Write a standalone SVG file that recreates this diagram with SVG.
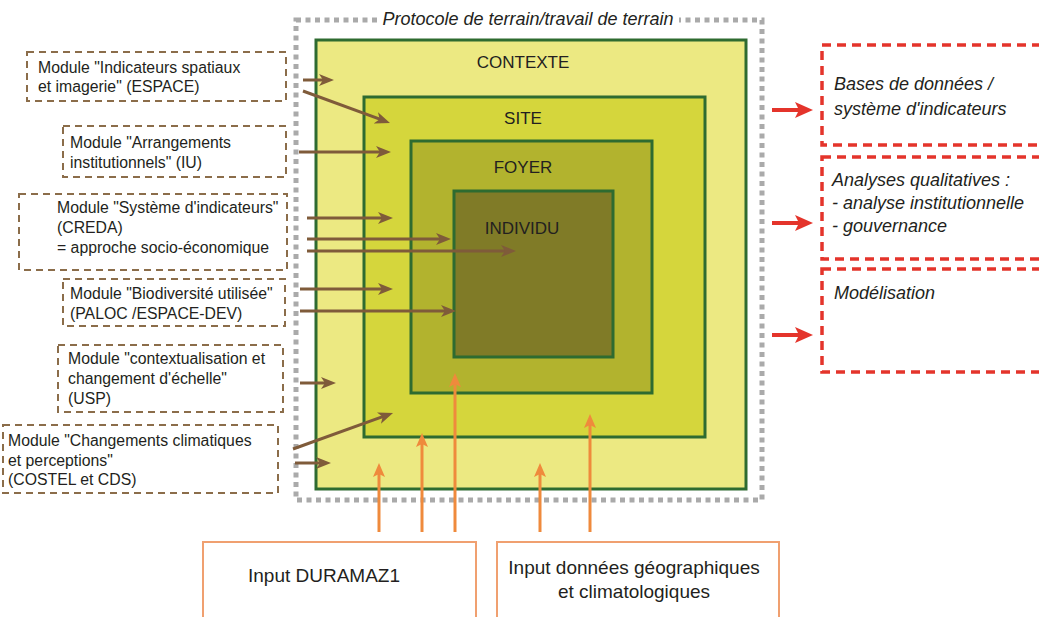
<svg xmlns="http://www.w3.org/2000/svg" width="1039" height="617" viewBox="0 0 1039 617">
<style>
.mod{fill:none;stroke:#8b6d4a;stroke-width:2;stroke-dasharray:7 5}
.out{fill:none;stroke:#e4342b;stroke-width:3.5;stroke-dasharray:9 6}
.inp{fill:#fff;stroke:#f0a070;stroke-width:2}
.t{font-family:"Liberation Sans",Arial,sans-serif;fill:#231f20}
.m{font-size:15.8px}
.it{font-style:italic;font-size:18px}
.lv{font-size:17px;text-anchor:middle}
.b{font-size:19px}
.lvl{stroke:#2e6b30;stroke-width:3}
.br{stroke:#7f5b3a;stroke-width:3;fill:none;marker-end:url(#ab)}
.rd{stroke:#e4342b;stroke-width:4;fill:none;marker-end:url(#ar)}
.or{stroke:#ef8a3c;stroke-width:3;fill:none;marker-end:url(#ao)}
</style>
<defs>
<marker id="ab" markerUnits="userSpaceOnUse" markerWidth="16" markerHeight="14" refX="7" refY="7" orient="auto"><path d="M0,1 L15,7 L0,13 L4,7 z" fill="#7f5b3a"/></marker>
<marker id="ar" markerUnits="userSpaceOnUse" markerWidth="19" markerHeight="17" refX="8" refY="8" orient="auto"><path d="M0,0 L18,8 L0,16 L4,8 z" fill="#e4342b"/></marker>
<marker id="ao" markerUnits="userSpaceOnUse" markerWidth="15" markerHeight="13" refX="6" refY="6" orient="auto"><path d="M0,0 L14,6 L0,12 L3,6 z" fill="#ef8a3c"/></marker>
</defs>
<rect width="1039" height="617" fill="#fff"/>

<g id="protocole">
<rect x="296" y="20" width="466" height="480" fill="none" stroke="#aaaaaa" stroke-width="5" stroke-dasharray="5 4.5"/>
<rect x="377" y="8" width="302" height="22" fill="#fff"/>
<text class="t it" x="528" y="25" text-anchor="middle">Protocole de terrain/travail de terrain</text>
</g>

<g id="contexte">
<rect class="lvl" x="316" y="40" width="430" height="449" fill="#ece982"/>
<text class="t lv" x="523" y="68">CONTEXTE</text>
</g>
<g id="site">
<rect class="lvl" x="364" y="97" width="341" height="340" fill="#d5d63c"/>
<text class="t lv" x="523" y="124">SITE</text>
</g>
<g id="foyer">
<rect class="lvl" x="411" y="141" width="241" height="252" fill="#b2b32e"/>
<text class="t lv" x="523" y="173">FOYER</text>
</g>
<g id="individu">
<rect class="lvl" x="454" y="191" width="159" height="166" fill="#807b27"/>
<text class="t lv" x="522" y="234">INDIVIDU</text>
</g>

<g id="mod-espace">
<rect class="mod" x="27" y="52" width="259" height="49"/>
<text class="t m" x="38" y="73">Module "Indicateurs spatiaux</text>
<text class="t m" x="38" y="92">et imagerie" (ESPACE)</text>
</g>
<g id="mod-iu">
<rect class="mod" x="63" y="126" width="223" height="51"/>
<text class="t m" x="70" y="148">Module "Arrangements</text>
<text class="t m" x="70" y="168">institutionnels" (IU)</text>
</g>
<g id="mod-creda">
<rect class="mod" x="19" y="194" width="268" height="76"/>
<text class="t m" x="57" y="213">Module "Système d'indicateurs"</text>
<text class="t m" x="57" y="233">(CREDA)</text>
<text class="t m" x="57" y="253">= approche socio-économique</text>
</g>
<g id="mod-paloc">
<rect class="mod" x="63" y="279" width="222" height="47"/>
<text class="t m" x="70" y="299">Module "Biodiversité utilisée"</text>
<text class="t m" x="70" y="319">(PALOC /ESPACE-DEV)</text>
</g>
<g id="mod-usp">
<rect class="mod" x="58" y="345" width="225" height="67"/>
<text class="t m" x="68" y="364">Module "contextualisation et</text>
<text class="t m" x="68" y="384">changement d'échelle"</text>
<text class="t m" x="68" y="404">(USP)</text>
</g>
<g id="mod-costel">
<rect class="mod" x="3" y="425" width="275" height="68"/>
<text class="t m" x="8" y="446">Module "Changements climatiques</text>
<text class="t m" x="8" y="466">et perceptions"</text>
<text class="t m" x="8" y="485">(COSTEL et CDS)</text>
</g>

<g id="out-bases">
<rect class="out" x="822" y="45" width="230" height="100"/>
<text class="t it" x="834" y="90">Bases de données /</text>
<text class="t it" x="834" y="115">système d'indicateurs</text>
</g>
<g id="out-analyses">
<rect class="out" x="822" y="157" width="230" height="102"/>
<text class="t it" x="832" y="186">Analyses qualitatives :</text>
<text class="t it" x="832" y="209">- analyse institutionnelle</text>
<text class="t it" x="832" y="232">- gouvernance</text>
</g>
<g id="out-model">
<rect class="out" x="822" y="269" width="230" height="103"/>
<text class="t it" x="834" y="299">Modélisation</text>
</g>

<g id="in-duramaz">
<rect class="inp" x="203" y="542" width="273" height="90"/>
<text class="t b" x="248" y="582">Input DURAMAZ1</text>
</g>
<g id="in-geo">
<rect class="inp" x="497" y="542" width="282" height="90"/>
<text class="t b" x="634" y="574" text-anchor="middle">Input données géographiques</text>
<text class="t b" x="634" y="598" text-anchor="middle">et climatologiques</text>
</g>

<g id="connectors">
<line class="br" x1="303" y1="80" x2="326" y2="80"/>
<line class="br" x1="303" y1="91" x2="382.5" y2="120.2"/>
<line class="br" x1="299" y1="152" x2="383" y2="152"/>
<line class="br" x1="307" y1="218" x2="385" y2="218"/>
<line class="br" x1="307" y1="239" x2="443" y2="239"/>
<line class="br" x1="307" y1="251" x2="508" y2="251"/>
<line class="br" x1="300" y1="289" x2="385" y2="289"/>
<line class="br" x1="300" y1="311" x2="448" y2="311"/>
<line class="br" x1="300" y1="383" x2="328" y2="383"/>
<line class="br" x1="293" y1="449" x2="385.5" y2="415.7"/>
<line class="br" x1="295" y1="463" x2="323" y2="463"/>

<line class="rd" x1="772" y1="110" x2="803" y2="110"/>
<line class="rd" x1="772" y1="223" x2="803" y2="223"/>
<line class="rd" x1="772" y1="335" x2="803" y2="335"/>

<line class="or" x1="379" y1="532" x2="379" y2="471"/>
<line class="or" x1="422" y1="532" x2="422" y2="441"/>
<line class="or" x1="455" y1="532" x2="455" y2="381"/>
<line class="or" x1="540" y1="532" x2="540" y2="471"/>
<line class="or" x1="590" y1="532" x2="590" y2="422"/>
</g>
</svg>
